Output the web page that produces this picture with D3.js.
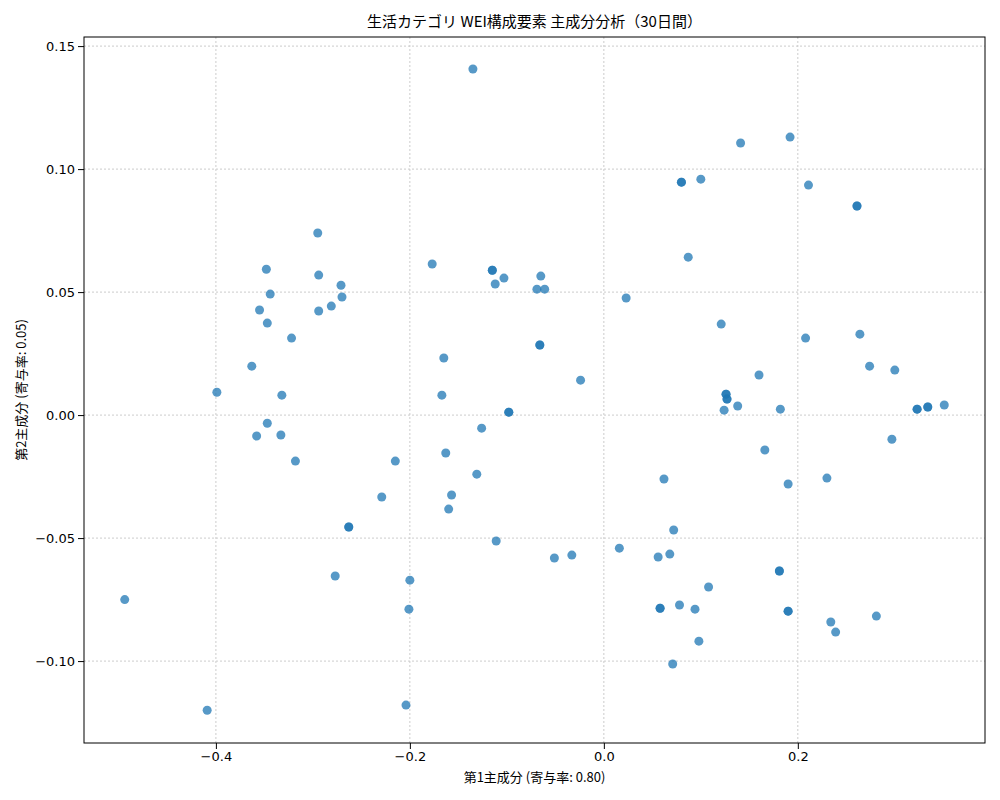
<!DOCTYPE html><html><head><meta charset="utf-8"><script src="https://cdn.jsdelivr.net/npm/d3@7"></script>
<style>body{margin:0;background:#fff;font-family:"Noto Sans CJK JP","DejaVu Sans",sans-serif}</style></head><body><svg id="c" width="1000" height="800"></svg><script>
const pc1=[-0.494,-0.409,-0.399,-0.363,-0.358,-0.355,-0.348,-0.347,-0.347,-0.344,-0.332,-0.333,-0.322,-0.318,-0.295,-0.294,-0.294,-0.281,-0.271,-0.270,-0.277,-0.263,-0.263,-0.229,-0.215,-0.200,-0.201,-0.204,-0.177,-0.165,-0.167,-0.163,-0.160,-0.157,-0.135,-0.131,-0.126,-0.115,-0.115,-0.112,-0.111,-0.103,-0.098,-0.098,-0.069,-0.065,-0.061,-0.066,-0.066,-0.051,-0.033,-0.024,0.016,0.023,0.056,0.058,0.058,0.062,0.068,0.071,0.072,0.078,0.080,0.080,0.087,0.094,0.098,0.100,0.108,0.121,0.124,0.126,0.126,0.127,0.127,0.138,0.141,0.160,0.166,0.181,0.181,0.182,0.190,0.190,0.190,0.192,0.208,0.211,0.230,0.234,0.239,0.261,0.261,0.264,0.274,0.281,0.297,0.300,0.323,0.323,0.334,0.334,0.351];
const pc2=[-0.075,-0.120,0.0093,0.0199,-0.0085,0.0427,0.0593,0.0374,-0.0033,0.0492,0.0081,-0.0081,0.0313,-0.0187,0.074,0.0569,0.0423,0.0443,0.0528,0.048,-0.0654,-0.0455,-0.0455,-0.0333,-0.0187,-0.0671,-0.0789,-0.1179,0.0614,0.0232,0.0081,-0.0154,-0.0382,-0.0325,0.1407,-0.024,-0.0053,0.0589,0.0589,0.0533,-0.0512,0.0557,0.0012,0.0012,0.0512,0.0565,0.0512,0.0285,0.0285,-0.0581,-0.0569,0.0142,-0.0541,0.0476,-0.0577,-0.0785,-0.0785,-0.026,-0.0565,-0.1012,-0.0467,-0.0772,0.0947,0.0947,0.0642,-0.0789,-0.0919,0.0959,-0.0699,0.037,0.002,0.0085,0.0085,0.0065,0.0065,0.0037,0.1106,0.0163,-0.0142,-0.0634,-0.0634,0.0024,-0.028,-0.0797,-0.0797,0.113,0.0313,0.0935,-0.0256,-0.0841,-0.0882,0.085,0.085,0.0329,0.0199,-0.0817,-0.0098,0.0183,0.0024,0.0024,0.0033,0.0033,0.0041];
const xTicks=[-0.4,-0.2,0.0,0.2], yTicks=[-0.10,-0.05,0.00,0.05,0.10,0.15];
const svg=d3.select("#c"),L=84,R=985,T=37,B=743;
const x=d3.scaleLinear().domain([-0.536,0.393]).range([L,R]);
const y=d3.scaleLinear().domain([-0.1333,0.1537]).range([B,T]);
const g=svg.append("g");
g.selectAll(".gx").data(xTicks).join("line").attr("x1",d=>x(d)).attr("x2",d=>x(d)).attr("y1",T).attr("y2",B).attr("stroke","#ccc").attr("stroke-dasharray","2,2");
g.selectAll(".gy").data(yTicks).join("line").attr("y1",d=>y(d)).attr("y2",d=>y(d)).attr("x1",L).attr("x2",R).attr("stroke","#ccc").attr("stroke-dasharray","2,2");
svg.append("g").selectAll("circle").data(pc1.map((v,i)=>[v,pc2[i]])).join("circle").attr("cx",d=>x(d[0])).attr("cy",d=>y(d[1])).attr("r",4.5).attr("fill","#1f77b4").attr("fill-opacity",0.75);
const ax=svg.append("g").attr("transform",`translate(0,${B})`).call(d3.axisBottom(x).tickValues(xTicks).tickFormat(d3.format(".1f")).tickSizeOuter(0));
const ay=svg.append("g").attr("transform",`translate(${L},0)`).call(d3.axisLeft(y).tickValues(yTicks).tickFormat(d3.format(".2f")).tickSizeOuter(0));
[ax,ay].forEach(a=>{a.selectAll("text").attr("font-size",13).attr("font-family","DejaVu Sans").attr("fill","#000");a.select(".domain").remove();});
svg.append("rect").attr("x",L).attr("y",T).attr("width",R-L).attr("height",B-T).attr("fill","none").attr("stroke","#000");
svg.append("text").attr("x",(L+R)/2).attr("y",27).attr("text-anchor","middle").attr("font-size",15).text("生活カテゴリ WEI構成要素 主成分分析（30日間）");
svg.append("text").attr("x",(L+R)/2).attr("y",782).attr("text-anchor","middle").attr("font-size",13).text("第1主成分 (寄与率: 0.80)");
svg.append("text").attr("transform",`translate(26,${(T+B)/2}) rotate(-90)`).attr("text-anchor","middle").attr("font-size",13).text("第2主成分 (寄与率: 0.05)");
</script></body></html>
